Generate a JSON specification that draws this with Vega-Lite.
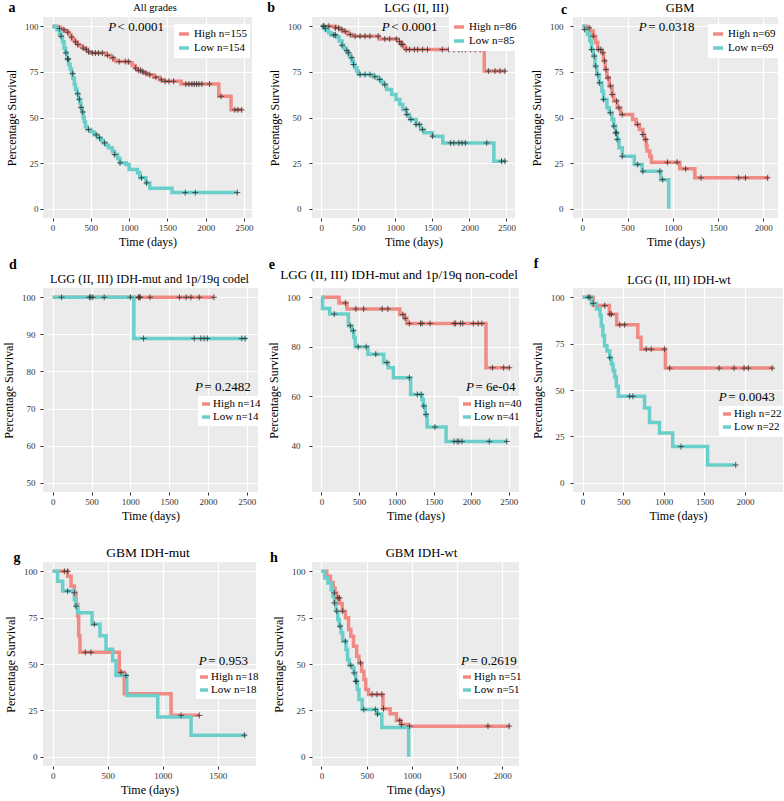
{
"$schema":"https://vega.github.io/schema/vega-lite/v6.json",
"padding":{"left":2,"top":1,"right":0,"bottom":3},
"background":"white",
"columns":3,
"spacing":{"row":70,"column":54},
"bounds":"flush",
"align":"each",
"resolve":{"scale":{"color":"independent"}},
"config":{
 "view":{"fill":"#EBEBEB","stroke":null},
 "font":"Liberation Serif",
 "text":{"font":"Liberation Serif","baseline":"middle","color":"#000"},
 "axis":{"domain":false,"tickColor":"#333","tickSize":3,"tickWidth":1,"labelFont":"Liberation Serif","labelFontSize":9,"labelColor":"#333","labelPadding":2,"titleFont":"Liberation Serif","titleFontSize":12,"titleFontWeight":"normal","titleColor":"#000","gridColor":"#fff","labelOverlap":false,"labelFlush":false,"titlePadding":6},
 "axisX":{"titlePadding":4},
 "legend":{"labelFont":"Liberation Serif","labelFontSize":11,"labelColor":"#000","fillColor":"white","padding":2,"symbolType":"stroke","symbolStrokeWidth":3.5,"symbolSize":64,"rowPadding":-5,"labelOffset":1,"symbolOpacity":1}
},
"datasets":{
"curves":[
{"p":"a","g":"High","t":0,"s":100},{"p":"a","g":"High","t":60,"s":99.4},{"p":"a","g":"High","t":100,"s":98.7},{"p":"a","g":"High","t":130,"s":98},{"p":"a","g":"High","t":160,"s":97.4},{"p":"a","g":"High","t":190,"s":96.7},{"p":"a","g":"High","t":215,"s":95.4},{"p":"a","g":"High","t":240,"s":94},{"p":"a","g":"High","t":260,"s":92.7},{"p":"a","g":"High","t":290,"s":91.4},{"p":"a","g":"High","t":320,"s":90},{"p":"a","g":"High","t":350,"s":89.3},{"p":"a","g":"High","t":390,"s":88},{"p":"a","g":"High","t":430,"s":87.3},{"p":"a","g":"High","t":460,"s":86},{"p":"a","g":"High","t":500,"s":85.3},{"p":"a","g":"High","t":700,"s":84},{"p":"a","g":"High","t":760,"s":82.7},{"p":"a","g":"High","t":800,"s":81.3},{"p":"a","g":"High","t":830,"s":80.6},{"p":"a","g":"High","t":1000,"s":79.9},{"p":"a","g":"High","t":1040,"s":78.5},{"p":"a","g":"High","t":1080,"s":77},{"p":"a","g":"High","t":1110,"s":75.8},{"p":"a","g":"High","t":1160,"s":75},{"p":"a","g":"High","t":1200,"s":74.2},{"p":"a","g":"High","t":1240,"s":73.4},{"p":"a","g":"High","t":1320,"s":72},{"p":"a","g":"High","t":1400,"s":70.6},{"p":"a","g":"High","t":1450,"s":69.8},{"p":"a","g":"High","t":1680,"s":68.3},{"p":"a","g":"High","t":2170,"s":61.6},{"p":"a","g":"High","t":2330,"s":54.2},{"p":"a","g":"High","t":2480,"s":54.2},
{"p":"a","g":"Low","t":0,"s":100},{"p":"a","g":"Low","t":30,"s":99.4},{"p":"a","g":"Low","t":60,"s":98},{"p":"a","g":"Low","t":90,"s":96},{"p":"a","g":"Low","t":110,"s":94.5},{"p":"a","g":"Low","t":130,"s":91.5},{"p":"a","g":"Low","t":150,"s":88},{"p":"a","g":"Low","t":170,"s":85.4},{"p":"a","g":"Low","t":190,"s":82},{"p":"a","g":"Low","t":210,"s":79},{"p":"a","g":"Low","t":230,"s":76.5},{"p":"a","g":"Low","t":250,"s":74},{"p":"a","g":"Low","t":265,"s":71.5},{"p":"a","g":"Low","t":285,"s":68},{"p":"a","g":"Low","t":300,"s":65.5},{"p":"a","g":"Low","t":320,"s":63},{"p":"a","g":"Low","t":340,"s":60},{"p":"a","g":"Low","t":355,"s":58},{"p":"a","g":"Low","t":370,"s":55.5},{"p":"a","g":"Low","t":385,"s":53},{"p":"a","g":"Low","t":400,"s":50},{"p":"a","g":"Low","t":415,"s":47.5},{"p":"a","g":"Low","t":430,"s":45},{"p":"a","g":"Low","t":450,"s":43.4},{"p":"a","g":"Low","t":500,"s":42.2},{"p":"a","g":"Low","t":540,"s":40.5},{"p":"a","g":"Low","t":590,"s":38.9},{"p":"a","g":"Low","t":630,"s":37.5},{"p":"a","g":"Low","t":660,"s":36.1},{"p":"a","g":"Low","t":700,"s":34.8},{"p":"a","g":"Low","t":730,"s":33.4},{"p":"a","g":"Low","t":780,"s":31.5},{"p":"a","g":"Low","t":810,"s":29.7},{"p":"a","g":"Low","t":850,"s":27.5},{"p":"a","g":"Low","t":880,"s":25.2},{"p":"a","g":"Low","t":960,"s":24.3},{"p":"a","g":"Low","t":1000,"s":21.5},{"p":"a","g":"Low","t":1110,"s":19.7},{"p":"a","g":"Low","t":1140,"s":17},{"p":"a","g":"Low","t":1220,"s":14.2},{"p":"a","g":"Low","t":1270,"s":11.3},{"p":"a","g":"Low","t":1560,"s":8.9},{"p":"a","g":"Low","t":2420,"s":8.9},
{"p":"b","g":"High","t":0,"s":100},{"p":"b","g":"High","t":190,"s":99},{"p":"b","g":"High","t":250,"s":98},{"p":"b","g":"High","t":300,"s":97},{"p":"b","g":"High","t":360,"s":95.4},{"p":"b","g":"High","t":420,"s":94.5},{"p":"b","g":"High","t":780,"s":93},{"p":"b","g":"High","t":1040,"s":91.5},{"p":"b","g":"High","t":1080,"s":90},{"p":"b","g":"High","t":1110,"s":88.5},{"p":"b","g":"High","t":1140,"s":87.2},{"p":"b","g":"High","t":2200,"s":75.4},{"p":"b","g":"High","t":2490,"s":75.4},
{"p":"b","g":"Low","t":0,"s":100},{"p":"b","g":"Low","t":30,"s":98.8},{"p":"b","g":"Low","t":60,"s":97.6},{"p":"b","g":"Low","t":100,"s":96.4},{"p":"b","g":"Low","t":130,"s":95.2},{"p":"b","g":"Low","t":200,"s":94},{"p":"b","g":"Low","t":240,"s":91.8},{"p":"b","g":"Low","t":280,"s":89.5},{"p":"b","g":"Low","t":305,"s":88.1},{"p":"b","g":"Low","t":330,"s":86.7},{"p":"b","g":"Low","t":350,"s":85.4},{"p":"b","g":"Low","t":375,"s":84},{"p":"b","g":"Low","t":395,"s":82.7},{"p":"b","g":"Low","t":415,"s":80.8},{"p":"b","g":"Low","t":435,"s":79},{"p":"b","g":"Low","t":455,"s":77.2},{"p":"b","g":"Low","t":480,"s":75.4},{"p":"b","g":"Low","t":500,"s":73.5},{"p":"b","g":"Low","t":700,"s":72.3},{"p":"b","g":"Low","t":770,"s":70.8},{"p":"b","g":"Low","t":810,"s":69.4},{"p":"b","g":"Low","t":840,"s":68},{"p":"b","g":"Low","t":880,"s":65.3},{"p":"b","g":"Low","t":950,"s":62.6},{"p":"b","g":"Low","t":1010,"s":59.9},{"p":"b","g":"Low","t":1060,"s":57.1},{"p":"b","g":"Low","t":1100,"s":54.4},{"p":"b","g":"Low","t":1150,"s":51.6},{"p":"b","g":"Low","t":1190,"s":48.9},{"p":"b","g":"Low","t":1280,"s":46.2},{"p":"b","g":"Low","t":1340,"s":43.4},{"p":"b","g":"Low","t":1390,"s":41.6},{"p":"b","g":"Low","t":1500,"s":39.8},{"p":"b","g":"Low","t":1640,"s":36.1},{"p":"b","g":"Low","t":2330,"s":26.1},{"p":"b","g":"Low","t":2490,"s":26.1},
{"p":"c","g":"High","t":0,"s":100},{"p":"c","g":"High","t":45,"s":99},{"p":"c","g":"High","t":83,"s":97.3},{"p":"c","g":"High","t":121,"s":94.5},{"p":"c","g":"High","t":147,"s":91},{"p":"c","g":"High","t":170,"s":87.2},{"p":"c","g":"High","t":216,"s":85.4},{"p":"c","g":"High","t":234,"s":81},{"p":"c","g":"High","t":253,"s":76.3},{"p":"c","g":"High","t":272,"s":71.7},{"p":"c","g":"High","t":299,"s":67.2},{"p":"c","g":"High","t":329,"s":62.6},{"p":"c","g":"High","t":348,"s":59},{"p":"c","g":"High","t":386,"s":55.3},{"p":"c","g":"High","t":423,"s":51.6},{"p":"c","g":"High","t":556,"s":48.9},{"p":"c","g":"High","t":594,"s":46.2},{"p":"c","g":"High","t":631,"s":43.4},{"p":"c","g":"High","t":669,"s":40.7},{"p":"c","g":"High","t":688,"s":38},{"p":"c","g":"High","t":707,"s":34.5},{"p":"c","g":"High","t":715,"s":31.6},{"p":"c","g":"High","t":745,"s":28.8},{"p":"c","g":"High","t":764,"s":25.5},{"p":"c","g":"High","t":1077,"s":21.9},{"p":"c","g":"High","t":1244,"s":17},{"p":"c","g":"High","t":2060,"s":17},
{"p":"c","g":"Low","t":0,"s":100},{"p":"c","g":"Low","t":26,"s":98.2},{"p":"c","g":"Low","t":57,"s":95.4},{"p":"c","g":"Low","t":83,"s":91.8},{"p":"c","g":"Low","t":102,"s":87.2},{"p":"c","g":"Low","t":121,"s":83.6},{"p":"c","g":"Low","t":140,"s":78.1},{"p":"c","g":"Low","t":159,"s":73.5},{"p":"c","g":"Low","t":185,"s":69},{"p":"c","g":"Low","t":216,"s":64.4},{"p":"c","g":"Low","t":234,"s":59.9},{"p":"c","g":"Low","t":272,"s":55.3},{"p":"c","g":"Low","t":299,"s":52.6},{"p":"c","g":"Low","t":329,"s":48.9},{"p":"c","g":"Low","t":348,"s":45.3},{"p":"c","g":"Low","t":367,"s":41.6},{"p":"c","g":"Low","t":386,"s":38},{"p":"c","g":"Low","t":405,"s":33.4},{"p":"c","g":"Low","t":442,"s":28.8},{"p":"c","g":"Low","t":575,"s":24.3},{"p":"c","g":"Low","t":662,"s":20.6},{"p":"c","g":"Low","t":866,"s":16},{"p":"c","g":"Low","t":955,"s":0},
{"p":"d","g":"High","t":0,"s":100},{"p":"d","g":"High","t":2080,"s":100},
{"p":"d","g":"Low","t":0,"s":100},{"p":"d","g":"Low","t":1045,"s":88.9},{"p":"d","g":"Low","t":2500,"s":88.9},
{"p":"e","g":"High","t":0,"s":100},{"p":"e","g":"High","t":235,"s":97.7},{"p":"e","g":"High","t":340,"s":95.3},{"p":"e","g":"High","t":1045,"s":93},{"p":"e","g":"High","t":1110,"s":91.5},{"p":"e","g":"High","t":1140,"s":89.4},{"p":"e","g":"High","t":2196,"s":71.5},{"p":"e","g":"High","t":2510,"s":71.5},
{"p":"e","g":"Low","t":0,"s":100},{"p":"e","g":"Low","t":15,"s":95.5},{"p":"e","g":"Low","t":110,"s":93.2},{"p":"e","g":"Low","t":360,"s":88.5},{"p":"e","g":"Low","t":405,"s":86.5},{"p":"e","g":"Low","t":430,"s":83.7},{"p":"e","g":"Low","t":450,"s":80},{"p":"e","g":"Low","t":620,"s":77},{"p":"e","g":"Low","t":830,"s":73.6},{"p":"e","g":"Low","t":890,"s":71.5},{"p":"e","g":"Low","t":960,"s":67.5},{"p":"e","g":"Low","t":1190,"s":60.7},{"p":"e","g":"Low","t":1340,"s":58.7},{"p":"e","g":"Low","t":1360,"s":56},{"p":"e","g":"Low","t":1385,"s":52.6},{"p":"e","g":"Low","t":1410,"s":47.5},{"p":"e","g":"Low","t":1663,"s":41.7},{"p":"e","g":"Low","t":2475,"s":41.7},
{"p":"f","g":"High","t":0,"s":100},{"p":"f","g":"High","t":130,"s":95.5},{"p":"f","g":"High","t":330,"s":90.9},{"p":"f","g":"High","t":420,"s":85.2},{"p":"f","g":"High","t":680,"s":78.5},{"p":"f","g":"High","t":720,"s":72},{"p":"f","g":"High","t":1020,"s":61.8},{"p":"f","g":"High","t":2350,"s":61.8},
{"p":"f","g":"Low","t":0,"s":100},{"p":"f","g":"Low","t":110,"s":96.7},{"p":"f","g":"Low","t":171,"s":93.7},{"p":"f","g":"Low","t":215,"s":90},{"p":"f","g":"Low","t":230,"s":84.6},{"p":"f","g":"Low","t":250,"s":79.2},{"p":"f","g":"Low","t":270,"s":73.8},{"p":"f","g":"Low","t":300,"s":71},{"p":"f","g":"Low","t":335,"s":67.4},{"p":"f","g":"Low","t":355,"s":64},{"p":"f","g":"Low","t":375,"s":60.5},{"p":"f","g":"Low","t":395,"s":57},{"p":"f","g":"Low","t":415,"s":52},{"p":"f","g":"Low","t":440,"s":46.6},{"p":"f","g":"Low","t":763,"s":40.3},{"p":"f","g":"Low","t":824,"s":32.5},{"p":"f","g":"Low","t":947,"s":26.8},{"p":"f","g":"Low","t":1110,"s":19.5},{"p":"f","g":"Low","t":1540,"s":9.6},{"p":"f","g":"Low","t":1870,"s":9.6},
{"p":"g","g":"High","t":0,"s":100},{"p":"g","g":"High","t":136,"s":97.3},{"p":"g","g":"High","t":167,"s":92},{"p":"g","g":"High","t":197,"s":88.4},{"p":"g","g":"High","t":212,"s":82.1},{"p":"g","g":"High","t":227,"s":75.9},{"p":"g","g":"High","t":236,"s":65.2},{"p":"g","g":"High","t":248,"s":56.3},{"p":"g","g":"High","t":606,"s":45.5},{"p":"g","g":"High","t":651,"s":33.9},{"p":"g","g":"High","t":1076,"s":22.3},{"p":"g","g":"High","t":1330,"s":22.3},
{"p":"g","g":"Low","t":0,"s":100},{"p":"g","g":"Low","t":45,"s":94.6},{"p":"g","g":"Low","t":91,"s":89.3},{"p":"g","g":"Low","t":197,"s":84.8},{"p":"g","g":"Low","t":212,"s":81.2},{"p":"g","g":"Low","t":227,"s":77.7},{"p":"g","g":"Low","t":358,"s":71.4},{"p":"g","g":"Low","t":430,"s":65.2},{"p":"g","g":"Low","t":485,"s":58},{"p":"g","g":"Low","t":545,"s":51.8},{"p":"g","g":"Low","t":576,"s":43.8},{"p":"g","g":"Low","t":673,"s":33},{"p":"g","g":"Low","t":955,"s":21.4},{"p":"g","g":"Low","t":1258,"s":11.6},{"p":"g","g":"Low","t":1760,"s":11.6},
{"p":"h","g":"High","t":0,"s":100},{"p":"h","g":"High","t":60,"s":97.3},{"p":"h","g":"High","t":100,"s":94},{"p":"h","g":"High","t":130,"s":91},{"p":"h","g":"High","t":150,"s":88.3},{"p":"h","g":"High","t":170,"s":85.6},{"p":"h","g":"High","t":200,"s":82.6},{"p":"h","g":"High","t":230,"s":78.5},{"p":"h","g":"High","t":265,"s":74.9},{"p":"h","g":"High","t":300,"s":68.6},{"p":"h","g":"High","t":325,"s":65},{"p":"h","g":"High","t":355,"s":59.6},{"p":"h","g":"High","t":390,"s":54.2},{"p":"h","g":"High","t":415,"s":50.6},{"p":"h","g":"High","t":445,"s":46.1},{"p":"h","g":"High","t":470,"s":41.6},{"p":"h","g":"High","t":490,"s":36.3},{"p":"h","g":"High","t":520,"s":33.6},{"p":"h","g":"High","t":680,"s":25.9},{"p":"h","g":"High","t":760,"s":23.2},{"p":"h","g":"High","t":830,"s":19.6},{"p":"h","g":"High","t":880,"s":17.4},{"p":"h","g":"High","t":960,"s":16.5},{"p":"h","g":"High","t":2080,"s":16.5},
{"p":"h","g":"Low","t":0,"s":100},{"p":"h","g":"Low","t":36,"s":96.4},{"p":"h","g":"Low","t":72,"s":93.7},{"p":"h","g":"Low","t":108,"s":90.1},{"p":"h","g":"Low","t":126,"s":86.5},{"p":"h","g":"Low","t":144,"s":82.9},{"p":"h","g":"Low","t":162,"s":78.5},{"p":"h","g":"Low","t":181,"s":74},{"p":"h","g":"Low","t":199,"s":70.4},{"p":"h","g":"Low","t":217,"s":66.8},{"p":"h","g":"Low","t":235,"s":62.3},{"p":"h","g":"Low","t":271,"s":57.8},{"p":"h","g":"Low","t":289,"s":52.4},{"p":"h","g":"Low","t":307,"s":49.2},{"p":"h","g":"Low","t":343,"s":47.9},{"p":"h","g":"Low","t":361,"s":45.2},{"p":"h","g":"Low","t":379,"s":40.7},{"p":"h","g":"Low","t":397,"s":36.3},{"p":"h","g":"Low","t":415,"s":30.9},{"p":"h","g":"Low","t":451,"s":25.5},{"p":"h","g":"Low","t":614,"s":23},{"p":"h","g":"Low","t":668,"s":15.8},{"p":"h","g":"Low","t":964,"s":0}
],
"cens":[
{"p":"a","t":90,"s":98.7},{"p":"a","t":150,"s":98},{"p":"a","t":200,"s":96.7},{"p":"a","t":250,"s":94},{"p":"a","t":300,"s":91.4},{"p":"a","t":330,"s":90},{"p":"a","t":400,"s":88},{"p":"a","t":440,"s":87.3},{"p":"a","t":470,"s":86},{"p":"a","t":520,"s":85.3},{"p":"a","t":560,"s":85.3},{"p":"a","t":600,"s":85.3},{"p":"a","t":650,"s":85.3},{"p":"a","t":720,"s":84},{"p":"a","t":790,"s":82.7},{"p":"a","t":870,"s":80.6},{"p":"a","t":950,"s":80.6},{"p":"a","t":990,"s":80.6},{"p":"a","t":1085,"s":77},{"p":"a","t":1120,"s":75.8},{"p":"a","t":1150,"s":75.8},{"p":"a","t":1180,"s":75},{"p":"a","t":1220,"s":74.2},{"p":"a","t":1270,"s":73.4},{"p":"a","t":1350,"s":72},{"p":"a","t":1420,"s":70.6},{"p":"a","t":1470,"s":69.8},{"p":"a","t":1520,"s":69.8},{"p":"a","t":1580,"s":69.8},{"p":"a","t":1740,"s":68.3},{"p":"a","t":1780,"s":68.3},{"p":"a","t":1820,"s":68.3},{"p":"a","t":1850,"s":68.3},{"p":"a","t":1880,"s":68.3},{"p":"a","t":1910,"s":68.3},{"p":"a","t":1950,"s":68.3},{"p":"a","t":2050,"s":68.3},{"p":"a","t":2200,"s":61.6},{"p":"a","t":2380,"s":54.2},{"p":"a","t":2420,"s":54.2},{"p":"a","t":2470,"s":54.2},
{"p":"a","t":110,"s":94.5},{"p":"a","t":175,"s":85.4},{"p":"a","t":197,"s":82},{"p":"a","t":205,"s":82},{"p":"a","t":263,"s":74},{"p":"a","t":329,"s":63},{"p":"a","t":351,"s":60},{"p":"a","t":373,"s":55.5},{"p":"a","t":395,"s":53},{"p":"a","t":470,"s":43.4},{"p":"a","t":570,"s":40.5},{"p":"a","t":614,"s":38.9},{"p":"a","t":680,"s":36.1},{"p":"a","t":811,"s":29.7},{"p":"a","t":882,"s":25.2},{"p":"a","t":1162,"s":17},{"p":"a","t":1228,"s":14.2},{"p":"a","t":1732,"s":8.9},{"p":"a","t":1864,"s":8.9},{"p":"a","t":2412,"s":8.9},
{"p":"b","t":36,"s":100},{"p":"b","t":102,"s":100},{"p":"b","t":191,"s":99},{"p":"b","t":235,"s":99},{"p":"b","t":280,"s":98},{"p":"b","t":324,"s":97},{"p":"b","t":391,"s":95.4},{"p":"b","t":457,"s":94.5},{"p":"b","t":524,"s":94.5},{"p":"b","t":591,"s":94.5},{"p":"b","t":657,"s":94.5},{"p":"b","t":768,"s":94.5},{"p":"b","t":857,"s":93},{"p":"b","t":924,"s":93},{"p":"b","t":1012,"s":93},{"p":"b","t":1057,"s":91.5},{"p":"b","t":1079,"s":90},{"p":"b","t":1101,"s":90},{"p":"b","t":1146,"s":87.2},{"p":"b","t":1190,"s":87.2},{"p":"b","t":1257,"s":87.2},{"p":"b","t":1301,"s":87.2},{"p":"b","t":1368,"s":87.2},{"p":"b","t":1434,"s":87.2},{"p":"b","t":1634,"s":87.2},{"p":"b","t":1723,"s":87.2},{"p":"b","t":1790,"s":87.2},{"p":"b","t":1856,"s":87.2},{"p":"b","t":1900,"s":87.2},{"p":"b","t":1945,"s":87.2},{"p":"b","t":2012,"s":87.2},{"p":"b","t":2078,"s":87.2},{"p":"b","t":2145,"s":87.2},{"p":"b","t":2256,"s":75.4},{"p":"b","t":2345,"s":75.4},{"p":"b","t":2412,"s":75.4},{"p":"b","t":2478,"s":75.4},
{"p":"b","t":27,"s":100},{"p":"b","t":58,"s":98.8},{"p":"b","t":169,"s":95.2},{"p":"b","t":191,"s":95.2},{"p":"b","t":280,"s":89.5},{"p":"b","t":346,"s":86.7},{"p":"b","t":368,"s":85.4},{"p":"b","t":413,"s":82.7},{"p":"b","t":435,"s":79},{"p":"b","t":524,"s":73.5},{"p":"b","t":591,"s":73.5},{"p":"b","t":657,"s":73.5},{"p":"b","t":724,"s":72.3},{"p":"b","t":790,"s":70.8},{"p":"b","t":857,"s":68},{"p":"b","t":1146,"s":54.4},{"p":"b","t":1155,"s":51.6},{"p":"b","t":1212,"s":48.9},{"p":"b","t":1279,"s":46.2},{"p":"b","t":1323,"s":46.2},{"p":"b","t":1368,"s":43.4},{"p":"b","t":1501,"s":39.8},{"p":"b","t":1745,"s":36.1},{"p":"b","t":1790,"s":36.1},{"p":"b","t":1856,"s":36.1},{"p":"b","t":1900,"s":36.1},{"p":"b","t":1945,"s":36.1},{"p":"b","t":2234,"s":36.1},{"p":"b","t":2433,"s":26.1},{"p":"b","t":2478,"s":26.1},
{"p":"c","t":76,"s":99},{"p":"c","t":121,"s":94.5},{"p":"c","t":178,"s":87.2},{"p":"c","t":204,"s":87.2},{"p":"c","t":227,"s":85.4},{"p":"c","t":246,"s":81},{"p":"c","t":261,"s":76.3},{"p":"c","t":284,"s":71.7},{"p":"c","t":310,"s":67.2},{"p":"c","t":329,"s":62.6},{"p":"c","t":378,"s":59},{"p":"c","t":405,"s":55.3},{"p":"c","t":442,"s":51.6},{"p":"c","t":612,"s":46.2},{"p":"c","t":669,"s":40.7},{"p":"c","t":700,"s":38},{"p":"c","t":941,"s":25.5},{"p":"c","t":1047,"s":25.5},{"p":"c","t":1142,"s":21.9},{"p":"c","t":1312,"s":17},{"p":"c","t":1728,"s":17},{"p":"c","t":1803,"s":17},{"p":"c","t":2049,"s":17},
{"p":"c","t":26,"s":98.2},{"p":"c","t":102,"s":87.2},{"p":"c","t":132,"s":83.6},{"p":"c","t":147,"s":78.1},{"p":"c","t":170,"s":73.5},{"p":"c","t":189,"s":69},{"p":"c","t":234,"s":59.9},{"p":"c","t":310,"s":52.6},{"p":"c","t":348,"s":45.3},{"p":"c","t":367,"s":41.6},{"p":"c","t":378,"s":41.6},{"p":"c","t":386,"s":38},{"p":"c","t":442,"s":28.8},{"p":"c","t":612,"s":24.3},{"p":"c","t":669,"s":20.6},{"p":"c","t":858,"s":20.6},{"p":"c","t":888,"s":16},
{"p":"d","t":114,"s":100},{"p":"d","t":473,"s":100},{"p":"d","t":490,"s":100},{"p":"d","t":515,"s":100},{"p":"d","t":663,"s":100},{"p":"d","t":1001,"s":100},{"p":"d","t":1106,"s":100},{"p":"d","t":1115,"s":100},{"p":"d","t":1128,"s":100},{"p":"d","t":1254,"s":100},{"p":"d","t":1634,"s":100},{"p":"d","t":1719,"s":100},{"p":"d","t":1782,"s":100},{"p":"d","t":1888,"s":100},{"p":"d","t":2078,"s":100},{"p":"d","t":1170,"s":88.9},{"p":"d","t":1824,"s":88.9},{"p":"d","t":1909,"s":88.9},{"p":"d","t":1951,"s":88.9},{"p":"d","t":1993,"s":88.9},{"p":"d","t":2437,"s":88.9},{"p":"d","t":2479,"s":88.9},
{"p":"e","t":320,"s":97.7},{"p":"e","t":460,"s":95.3},{"p":"e","t":563,"s":95.3},{"p":"e","t":810,"s":95.3},{"p":"e","t":887,"s":95.3},{"p":"e","t":1087,"s":93},{"p":"e","t":1117,"s":91.5},{"p":"e","t":1173,"s":89.4},{"p":"e","t":1322,"s":89.4},{"p":"e","t":1343,"s":89.4},{"p":"e","t":1450,"s":89.4},{"p":"e","t":1770,"s":89.4},{"p":"e","t":1791,"s":89.4},{"p":"e","t":1855,"s":89.4},{"p":"e","t":1885,"s":89.4},{"p":"e","t":2026,"s":89.4},{"p":"e","t":2090,"s":89.4},{"p":"e","t":2141,"s":89.4},{"p":"e","t":2281,"s":71.5},{"p":"e","t":2431,"s":71.5},{"p":"e","t":2507,"s":71.5},
{"p":"e","t":171,"s":93.2},{"p":"e","t":384,"s":88.5},{"p":"e","t":426,"s":86.5},{"p":"e","t":490,"s":80},{"p":"e","t":597,"s":80},{"p":"e","t":725,"s":77},{"p":"e","t":874,"s":73.6},{"p":"e","t":1173,"s":67.5},{"p":"e","t":1279,"s":60.7},{"p":"e","t":1330,"s":60.7},{"p":"e","t":1365,"s":56},{"p":"e","t":1395,"s":52.6},{"p":"e","t":1514,"s":47.5},{"p":"e","t":1770,"s":41.7},{"p":"e","t":1812,"s":41.7},{"p":"e","t":1834,"s":41.7},{"p":"e","t":1876,"s":41.7},{"p":"e","t":2239,"s":41.7},{"p":"e","t":2473,"s":41.7},
{"p":"f","t":69,"s":100},{"p":"f","t":90,"s":100},{"p":"f","t":273,"s":95.5},{"p":"f","t":335,"s":90.9},{"p":"f","t":355,"s":90.9},{"p":"f","t":457,"s":85.2},{"p":"f","t":518,"s":85.2},{"p":"f","t":784,"s":72},{"p":"f","t":845,"s":72},{"p":"f","t":1008,"s":72},{"p":"f","t":1073,"s":61.8},{"p":"f","t":1682,"s":61.8},{"p":"f","t":1865,"s":61.8},{"p":"f","t":1988,"s":61.8},{"p":"f","t":2041,"s":61.8},{"p":"f","t":2335,"s":61.8},
{"p":"f","t":131,"s":96.7},{"p":"f","t":335,"s":67.4},{"p":"f","t":580,"s":46.6},{"p":"f","t":620,"s":46.6},{"p":"f","t":1212,"s":19.5},{"p":"f","t":1886,"s":9.6},
{"p":"g","t":106,"s":100},{"p":"g","t":136,"s":100},{"p":"g","t":197,"s":88.4},{"p":"g","t":297,"s":56.3},{"p":"g","t":348,"s":56.3},{"p":"g","t":621,"s":45.5},{"p":"g","t":1167,"s":22.3},{"p":"g","t":1333,"s":22.3},
{"p":"g","t":136,"s":89.3},{"p":"g","t":212,"s":81.2},{"p":"g","t":379,"s":71.4},{"p":"g","t":667,"s":43.8},{"p":"g","t":1742,"s":11.6},
{"p":"h","t":144,"s":88.3},{"p":"h","t":181,"s":85.6},{"p":"h","t":199,"s":85.6},{"p":"h","t":235,"s":78.5},{"p":"h","t":433,"s":50.6},{"p":"h","t":560,"s":33.6},{"p":"h","t":614,"s":33.6},{"p":"h","t":668,"s":33.6},{"p":"h","t":686,"s":25.9},{"p":"h","t":866,"s":19.6},{"p":"h","t":884,"s":17.4},{"p":"h","t":975,"s":16.5},{"p":"h","t":1841,"s":16.5},{"p":"h","t":2076,"s":16.5},
{"p":"h","t":144,"s":82.9},{"p":"h","t":170,"s":78.5},{"p":"h","t":206,"s":70.4},{"p":"h","t":264,"s":62.3},{"p":"h","t":325,"s":49.2},{"p":"h","t":361,"s":45.2},{"p":"h","t":379,"s":40.7},{"p":"h","t":386,"s":40.7},{"p":"h","t":469,"s":25.5},{"p":"h","t":596,"s":25.5},{"p":"h","t":620,"s":23}
]
},
"concat":[
{"width":209,"height":201,"layer":[
 {"data":{"name":"curves"},"transform":[{"filter":"datum.p=='a'"}],"mark":{"type":"line","interpolate":"step-after","strokeWidth":3.5},
  "encoding":{
   "x":{"field":"t","type":"quantitative","title":"Time (days)","scale":{"domain":[-124,2604],"nice":false,"zero":false},"axis":{"format":"d","values":[0,250,500,750,1000,1250,1500,1750,2000,2250,2500],"labelExpr":"datum.value % 500 == 0 ? datum.label : ''","gridWidth":{"condition":{"test":"datum.value % 500 == 0","value":1.2},"value":0.6},"tickOpacity":{"condition":{"test":"datum.value % 500 == 0","value":1},"value":0}}},
   "y":{"field":"s","type":"quantitative","title":"Percentage Survival","scale":{"domain":[-5,105],"nice":false,"zero":false},"axis":{"labelPadding":2,"format":"d","values":[0,12.5,25,37.5,50,62.5,75,87.5,100],"labelExpr":"datum.value % 25 == 0 ? datum.label : ''","gridWidth":{"condition":{"test":"datum.value % 25 == 0","value":1.2},"value":0.6},"tickOpacity":{"condition":{"test":"datum.value % 25 == 0","value":1},"value":0}}},
   "color":{"field":"g","type":"nominal","scale":{"domain":["High","Low"],"range":["#F08A84","#6ACFCB"]},"legend":{"title":null,"orient":"none","legendX":131,"legendY":7,"symbolSize":100,"rowPadding":-1,"padding":3,"labelOffset":3,"labelExpr":"datum.label == 'High' ? 'High n=155' : 'Low n=154'"}}}},
 {"data":{"name":"cens"},"transform":[{"filter":"datum.p=='a'"}],"mark":{"type":"point","shape":"M-1,0H1M0,-1V1","size":36,"filled":false,"color":"#333","strokeWidth":0.8,"opacity":1},"encoding":{"x":{"field":"t","type":"quantitative","axis":{"title":"Time (days)"}},"y":{"field":"s","type":"quantitative","axis":{"title":"Percentage Survival"}}}},
 {"data":{"values":[{}]},"mark":{"type":"text","text":"All grades","fontSize":10.5},"encoding":{"x":{"datum":1338,"type":"quantitative","axis":{"title":"Time (days)"}},"y":{"datum":109.9,"type":"quantitative","axis":{"title":"Percentage Survival"}}}},
 {"data":{"values":[{}]},"mark":{"type":"text","text":"a","fontWeight":"bold","fontSize":14},"encoding":{"x":{"datum":-529,"type":"quantitative","axis":{"title":"Time (days)"}},"y":{"datum":109.9,"type":"quantitative","axis":{"title":"Percentage Survival"}}}},
 {"data":{"values":[{}]},"mark":{"type":"text","text":"P","fontStyle":"italic","align":"right","fontSize":13},"encoding":{"x":{"datum":830,"type":"quantitative","axis":{"title":"Time (days)"}},"y":{"datum":99.7,"type":"quantitative","axis":{"title":"Percentage Survival"}}}},
 {"data":{"values":[{}]},"mark":{"type":"text","text":"\u00a0< 0.0001","align":"left","fontSize":13,"dx":1.5},"encoding":{"x":{"datum":830,"type":"quantitative","axis":{"title":"Time (days)"}},"y":{"datum":99.7,"type":"quantitative","axis":{"title":"Percentage Survival"}}}}
]},
{"width":203,"height":201,"layer":[
 {"data":{"name":"curves"},"transform":[{"filter":"datum.p=='b'"}],"mark":{"type":"line","interpolate":"step-after","strokeWidth":3.5},
  "encoding":{
   "x":{"field":"t","type":"quantitative","title":"Time (days)","scale":{"domain":[-125,2615],"nice":false,"zero":false},"axis":{"format":"d","values":[0,250,500,750,1000,1250,1500,1750,2000,2250,2500],"labelExpr":"datum.value % 500 == 0 ? datum.label : ''","gridWidth":{"condition":{"test":"datum.value % 500 == 0","value":1.2},"value":0.6},"tickOpacity":{"condition":{"test":"datum.value % 500 == 0","value":1},"value":0}}},
   "y":{"field":"s","type":"quantitative","title":"Percentage Survival","scale":{"domain":[-5,105],"nice":false,"zero":false},"axis":{"labelPadding":8,"format":"d","values":[0,12.5,25,37.5,50,62.5,75,87.5,100],"labelExpr":"datum.value % 25 == 0 ? datum.label : ''","gridWidth":{"condition":{"test":"datum.value % 25 == 0","value":1.2},"value":0.6},"tickOpacity":{"condition":{"test":"datum.value % 25 == 0","value":1},"value":0}}},
   "color":{"field":"g","type":"nominal","scale":{"domain":["High","Low"],"range":["#F08A84","#6ACFCB"]},"legend":{"title":null,"orient":"none","legendX":137,"legendY":0,"symbolSize":100,"rowPadding":-1,"padding":3,"labelOffset":3,"labelExpr":"datum.label == 'High' ? 'High n=86' : 'Low n=85'"}}}},
 {"data":{"name":"cens"},"transform":[{"filter":"datum.p=='b'"}],"mark":{"type":"point","shape":"M-1,0H1M0,-1V1","size":36,"filled":false,"color":"#333","strokeWidth":0.8,"opacity":1},"encoding":{"x":{"field":"t","type":"quantitative","axis":{"title":"Time (days)"}},"y":{"field":"s","type":"quantitative","axis":{"title":"Percentage Survival"}}}},
 {"data":{"values":[{}]},"mark":{"type":"text","text":"LGG (II, III)","fontSize":12.5},"encoding":{"x":{"datum":1285,"type":"quantitative","axis":{"title":"Time (days)"}},"y":{"datum":109.7,"type":"quantitative","axis":{"title":"Percentage Survival"}}}},
 {"data":{"values":[{}]},"mark":{"type":"text","text":"b","fontWeight":"bold","fontSize":14},"encoding":{"x":{"datum":-678,"type":"quantitative","axis":{"title":"Time (days)"}},"y":{"datum":109.9,"type":"quantitative","axis":{"title":"Percentage Survival"}}}},
 {"data":{"values":[{}]},"mark":{"type":"text","text":"P","fontStyle":"italic","align":"right","fontSize":13},"encoding":{"x":{"datum":925,"type":"quantitative","axis":{"title":"Time (days)"}},"y":{"datum":99.7,"type":"quantitative","axis":{"title":"Percentage Survival"}}}},
 {"data":{"values":[{}]},"mark":{"type":"text","text":"\u00a0< 0.0001","align":"left","fontSize":13,"dx":1.5},"encoding":{"x":{"datum":925,"type":"quantitative","axis":{"title":"Time (days)"}},"y":{"datum":99.7,"type":"quantitative","axis":{"title":"Percentage Survival"}}}}
]},
{"width":205,"height":201,"layer":[
 {"data":{"name":"curves"},"transform":[{"filter":"datum.p=='c'"}],"mark":{"type":"line","interpolate":"step-after","strokeWidth":3.5},
  "encoding":{
   "x":{"field":"t","type":"quantitative","title":"Time (days)","scale":{"domain":[-103,2163],"nice":false,"zero":false},"axis":{"format":"d","values":[0,250,500,750,1000,1250,1500,1750,2000],"labelExpr":"datum.value % 500 == 0 ? datum.label : ''","gridWidth":{"condition":{"test":"datum.value % 500 == 0","value":1.2},"value":0.6},"tickOpacity":{"condition":{"test":"datum.value % 500 == 0","value":1},"value":0}}},
   "y":{"field":"s","type":"quantitative","title":"Percentage Survival","scale":{"domain":[-5,105],"nice":false,"zero":false},"axis":{"labelPadding":7,"format":"d","values":[0,12.5,25,37.5,50,62.5,75,87.5,100],"labelExpr":"datum.value % 25 == 0 ? datum.label : ''","gridWidth":{"condition":{"test":"datum.value % 25 == 0","value":1.2},"value":0.6},"tickOpacity":{"condition":{"test":"datum.value % 25 == 0","value":1},"value":0}}},
   "color":{"field":"g","type":"nominal","scale":{"domain":["High","Low"],"range":["#F08A84","#6ACFCB"]},"legend":{"title":null,"orient":"none","legendX":135,"legendY":7,"symbolSize":100,"rowPadding":-1,"padding":3,"labelOffset":3,"labelExpr":"datum.label == 'High' ? 'High n=69' : 'Low n=69'"}}}},
 {"data":{"name":"cens"},"transform":[{"filter":"datum.p=='c'"}],"mark":{"type":"point","shape":"M-1,0H1M0,-1V1","size":36,"filled":false,"color":"#333","strokeWidth":0.8,"opacity":1},"encoding":{"x":{"field":"t","type":"quantitative","axis":{"title":"Time (days)"}},"y":{"field":"s","type":"quantitative","axis":{"title":"Percentage Survival"}}}},
 {"data":{"values":[{}]},"mark":{"type":"text","text":"GBM","fontSize":12.5},"encoding":{"x":{"datum":1080,"type":"quantitative","axis":{"title":"Time (days)"}},"y":{"datum":109.9,"type":"quantitative","axis":{"title":"Percentage Survival"}}}},
 {"data":{"values":[{}]},"mark":{"type":"text","text":"c","fontWeight":"bold","fontSize":14},"encoding":{"x":{"datum":-202,"type":"quantitative","axis":{"title":"Time (days)"}},"y":{"datum":109,"type":"quantitative","axis":{"title":"Percentage Survival"}}}},
 {"data":{"values":[{}]},"mark":{"type":"text","text":"P","fontStyle":"italic","align":"right","fontSize":13},"encoding":{"x":{"datum":712,"type":"quantitative","axis":{"title":"Time (days)"}},"y":{"datum":99.7,"type":"quantitative","axis":{"title":"Percentage Survival"}}}},
 {"data":{"values":[{}]},"mark":{"type":"text","text":"\u00a0= 0.0318","align":"left","fontSize":13,"dx":1.5},"encoding":{"x":{"datum":712,"type":"quantitative","axis":{"title":"Time (days)"}},"y":{"datum":99.7,"type":"quantitative","axis":{"title":"Percentage Survival"}}}}
]},
{"width":215,"height":204,"layer":[
 {"data":{"name":"curves"},"transform":[{"filter":"datum.p=='d'"}],"mark":{"type":"line","interpolate":"step-after","strokeWidth":3.5},
  "encoding":{
   "x":{"field":"t","type":"quantitative","title":"Time (days)","scale":{"domain":[-126,2646],"nice":false,"zero":false},"axis":{"format":"d","values":[0,250,500,750,1000,1250,1500,1750,2000,2250,2500],"labelExpr":"datum.value % 500 == 0 ? datum.label : ''","gridWidth":{"condition":{"test":"datum.value % 500 == 0","value":1.2},"value":0.6},"tickOpacity":{"condition":{"test":"datum.value % 500 == 0","value":1},"value":0}}},
   "y":{"field":"s","type":"quantitative","title":"Percentage Survival","scale":{"domain":[47.5,102.5],"nice":false,"zero":false},"axis":{"labelPadding":5,"format":"d","values":[50,55,60,65,70,75,80,85,90,95,100],"labelExpr":"datum.value % 10 == 0 ? datum.label : ''","gridWidth":{"condition":{"test":"datum.value % 10 == 0","value":1.2},"value":0.6},"tickOpacity":{"condition":{"test":"datum.value % 10 == 0","value":1},"value":0}}},
   "color":{"field":"g","type":"nominal","scale":{"domain":["High","Low"],"range":["#F08A84","#6ACFCB"]},"legend":{"title":null,"orient":"none","legendX":155,"legendY":108,"labelExpr":"datum.label == 'High' ? 'High n=14' : 'Low n=14'"}}}},
 {"data":{"name":"cens"},"transform":[{"filter":"datum.p=='d'"}],"mark":{"type":"point","shape":"M-1,0H1M0,-1V1","size":36,"filled":false,"color":"#333","strokeWidth":0.8,"opacity":1},"encoding":{"x":{"field":"t","type":"quantitative","axis":{"title":"Time (days)"}},"y":{"field":"s","type":"quantitative","axis":{"title":"Percentage Survival"}}}},
 {"data":{"values":[{}]},"mark":{"type":"text","text":"LGG (II, III) IDH-mut and 1p/19q codel","fontSize":12.3},"encoding":{"x":{"datum":1247,"type":"quantitative","axis":{"title":"Time (days)"}},"y":{"datum":104.9,"type":"quantitative","axis":{"title":"Percentage Survival"}}}},
 {"data":{"values":[{}]},"mark":{"type":"text","text":"d","fontWeight":"bold","fontSize":14},"encoding":{"x":{"datum":-513,"type":"quantitative","axis":{"title":"Time (days)"}},"y":{"datum":108.7,"type":"quantitative","axis":{"title":"Percentage Survival"}}}},
 {"data":{"values":[{}]},"mark":{"type":"text","text":"P","fontStyle":"italic","align":"right","fontSize":13},"encoding":{"x":{"datum":1935,"type":"quantitative","axis":{"title":"Time (days)"}},"y":{"datum":75.9,"type":"quantitative","axis":{"title":"Percentage Survival"}}}},
 {"data":{"values":[{}]},"mark":{"type":"text","text":"\u00a0= 0.2482","align":"left","fontSize":13,"dx":1.5},"encoding":{"x":{"datum":1935,"type":"quantitative","axis":{"title":"Time (days)"}},"y":{"datum":75.9,"type":"quantitative","axis":{"title":"Percentage Survival"}}}}
]},
{"width":207,"height":204,"layer":[
 {"data":{"name":"curves"},"transform":[{"filter":"datum.p=='e'"}],"mark":{"type":"line","interpolate":"step-after","strokeWidth":3.5},
  "encoding":{
   "x":{"field":"t","type":"quantitative","title":"Time (days)","scale":{"domain":[-126,2636],"nice":false,"zero":false},"axis":{"format":"d","values":[0,250,500,750,1000,1250,1500,1750,2000,2250,2500],"labelExpr":"datum.value % 500 == 0 ? datum.label : ''","gridWidth":{"condition":{"test":"datum.value % 500 == 0","value":1.2},"value":0.6},"tickOpacity":{"condition":{"test":"datum.value % 500 == 0","value":1},"value":0}}},
   "y":{"field":"s","type":"quantitative","title":"Percentage Survival","scale":{"domain":[21.25,103.75],"nice":false,"zero":false},"axis":{"labelPadding":9,"format":"d","values":[40,60,80,100],"gridWidth":1.2,"labelOverlap":false}},
   "color":{"field":"g","type":"nominal","scale":{"domain":["High","Low"],"range":["#F08A84","#6ACFCB"]},"legend":{"title":null,"orient":"none","legendX":147,"legendY":108,"labelExpr":"datum.label == 'High' ? 'High n=40' : 'Low n=41'"}}}},
 {"data":{"name":"cens"},"transform":[{"filter":"datum.p=='e'"}],"mark":{"type":"point","shape":"M-1,0H1M0,-1V1","size":36,"filled":false,"color":"#333","strokeWidth":0.8,"opacity":1},"encoding":{"x":{"field":"t","type":"quantitative","axis":{"title":"Time (days)"}},"y":{"field":"s","type":"quantitative","axis":{"title":"Percentage Survival"}}}},
 {"data":{"values":[{}]},"mark":{"type":"text","text":"LGG (II, III) IDH-mut and 1p/19q non-codel","fontSize":13.2},"encoding":{"x":{"datum":1035,"type":"quantitative","axis":{"title":"Time (days)"}},"y":{"datum":109,"type":"quantitative","axis":{"title":"Percentage Survival"}}}},
 {"data":{"values":[{}]},"mark":{"type":"text","text":"e","fontWeight":"bold","fontSize":14},"encoding":{"x":{"datum":-660,"type":"quantitative","axis":{"title":"Time (days)"}},"y":{"datum":113,"type":"quantitative","axis":{"title":"Percentage Survival"}}}},
 {"data":{"values":[{}]},"mark":{"type":"text","text":"P","fontStyle":"italic","align":"right","fontSize":13},"encoding":{"x":{"datum":2034,"type":"quantitative","axis":{"title":"Time (days)"}},"y":{"datum":63.8,"type":"quantitative","axis":{"title":"Percentage Survival"}}}},
 {"data":{"values":[{}]},"mark":{"type":"text","text":"\u00a0= 6e-04","align":"left","fontSize":13,"dx":1.5},"encoding":{"x":{"datum":2034,"type":"quantitative","axis":{"title":"Time (days)"}},"y":{"datum":63.8,"type":"quantitative","axis":{"title":"Percentage Survival"}}}}
]},
{"width":210,"height":204,"layer":[
 {"data":{"name":"curves"},"transform":[{"filter":"datum.p=='f'"}],"mark":{"type":"line","interpolate":"step-after","strokeWidth":3.5},
  "encoding":{
   "x":{"field":"t","type":"quantitative","title":"Time (days)","scale":{"domain":[-118,2468],"nice":false,"zero":false},"axis":{"format":"d","values":[0,250,500,750,1000,1250,1500,1750,2000,2250],"labelExpr":"datum.value % 500 == 0 ? datum.label : ''","gridWidth":{"condition":{"test":"datum.value % 500 == 0","value":1.2},"value":0.6},"tickOpacity":{"condition":{"test":"datum.value % 500 == 0","value":1},"value":0}}},
   "y":{"field":"s","type":"quantitative","title":"Percentage Survival","scale":{"domain":[-5,105],"nice":false,"zero":false},"axis":{"labelPadding":6,"format":"d","values":[0,12.5,25,37.5,50,62.5,75,87.5,100],"labelExpr":"datum.value % 25 == 0 ? datum.label : ''","gridWidth":{"condition":{"test":"datum.value % 25 == 0","value":1.2},"value":0.6},"tickOpacity":{"condition":{"test":"datum.value % 25 == 0","value":1},"value":0}}},
   "color":{"field":"g","type":"nominal","scale":{"domain":["High","Low"],"range":["#F08A84","#6ACFCB"]},"legend":{"title":null,"orient":"none","legendX":146,"legendY":118,"labelExpr":"datum.label == 'High' ? 'High n=22' : 'Low n=22'"}}}},
 {"data":{"name":"cens"},"transform":[{"filter":"datum.p=='f'"}],"mark":{"type":"point","shape":"M-1,0H1M0,-1V1","size":36,"filled":false,"color":"#333","strokeWidth":0.8,"opacity":1},"encoding":{"x":{"field":"t","type":"quantitative","axis":{"title":"Time (days)"}},"y":{"field":"s","type":"quantitative","axis":{"title":"Percentage Survival"}}}},
 {"data":{"values":[{}]},"mark":{"type":"text","text":"LGG (II, III) IDH-wt","fontSize":12.2},"encoding":{"x":{"datum":1187,"type":"quantitative","axis":{"title":"Time (days)"}},"y":{"datum":109.3,"type":"quantitative","axis":{"title":"Percentage Survival"}}}},
 {"data":{"values":[{}]},"mark":{"type":"text","text":"f","fontWeight":"bold","fontSize":14},"encoding":{"x":{"datum":-574,"type":"quantitative","axis":{"title":"Time (days)"}},"y":{"datum":117.9,"type":"quantitative","axis":{"title":"Percentage Survival"}}}},
 {"data":{"values":[{}]},"mark":{"type":"text","text":"P","fontStyle":"italic","align":"right","fontSize":13},"encoding":{"x":{"datum":1776,"type":"quantitative","axis":{"title":"Time (days)"}},"y":{"datum":46.4,"type":"quantitative","axis":{"title":"Percentage Survival"}}}},
 {"data":{"values":[{}]},"mark":{"type":"text","text":"\u00a0= 0.0043","align":"left","fontSize":13,"dx":1.5},"encoding":{"x":{"datum":1776,"type":"quantitative","axis":{"title":"Time (days)"}},"y":{"datum":46.4,"type":"quantitative","axis":{"title":"Percentage Survival"}}}}
]},
{"width":213,"height":204,"layer":[
 {"data":{"name":"curves"},"transform":[{"filter":"datum.p=='g'"}],"mark":{"type":"line","interpolate":"step-after","strokeWidth":3.5},
  "encoding":{
   "x":{"field":"t","type":"quantitative","title":"Time (days)","scale":{"domain":[-88,1848],"nice":false,"zero":false},"axis":{"format":"d","values":[0,250,500,750,1000,1250,1500,1750],"labelExpr":"datum.value % 500 == 0 ? datum.label : ''","gridWidth":{"condition":{"test":"datum.value % 500 == 0","value":1.2},"value":0.6},"tickOpacity":{"condition":{"test":"datum.value % 500 == 0","value":1},"value":0}}},
   "y":{"field":"s","type":"quantitative","title":"Percentage Survival","scale":{"domain":[-5,105],"nice":false,"zero":false},"axis":{"labelPadding":3,"format":"d","values":[0,12.5,25,37.5,50,62.5,75,87.5,100],"labelExpr":"datum.value % 25 == 0 ? datum.label : ''","gridWidth":{"condition":{"test":"datum.value % 25 == 0","value":1.2},"value":0.6},"tickOpacity":{"condition":{"test":"datum.value % 25 == 0","value":1},"value":0}}},
   "color":{"field":"g","type":"nominal","scale":{"domain":["High","Low"],"range":["#F08A84","#6ACFCB"]},"legend":{"title":null,"orient":"none","legendX":153,"legendY":107,"labelExpr":"datum.label == 'High' ? 'High n=18' : 'Low n=18'"}}}},
 {"data":{"name":"cens"},"transform":[{"filter":"datum.p=='g'"}],"mark":{"type":"point","shape":"M-1,0H1M0,-1V1","size":36,"filled":false,"color":"#333","strokeWidth":0.8,"opacity":1},"encoding":{"x":{"field":"t","type":"quantitative","axis":{"title":"Time (days)"}},"y":{"field":"s","type":"quantitative","axis":{"title":"Percentage Survival"}}}},
 {"data":{"values":[{}]},"mark":{"type":"text","text":"GBM IDH-mut","fontSize":13.5},"encoding":{"x":{"datum":866,"type":"quantitative","axis":{"title":"Time (days)"}},"y":{"datum":109.7,"type":"quantitative","axis":{"title":"Percentage Survival"}}}},
 {"data":{"values":[{}]},"mark":{"type":"text","text":"g","fontWeight":"bold","fontSize":14},"encoding":{"x":{"datum":-324,"type":"quantitative","axis":{"title":"Time (days)"}},"y":{"datum":107.2,"type":"quantitative","axis":{"title":"Percentage Survival"}}}},
 {"data":{"values":[{}]},"mark":{"type":"text","text":"P","fontStyle":"italic","align":"right","fontSize":13},"encoding":{"x":{"datum":1400,"type":"quantitative","axis":{"title":"Time (days)"}},"y":{"datum":51.8,"type":"quantitative","axis":{"title":"Percentage Survival"}}}},
 {"data":{"values":[{}]},"mark":{"type":"text","text":"\u00a0= 0.953","align":"left","fontSize":13,"dx":1.5},"encoding":{"x":{"datum":1400,"type":"quantitative","axis":{"title":"Time (days)"}},"y":{"datum":51.8,"type":"quantitative","axis":{"title":"Percentage Survival"}}}}
]},
{"width":207,"height":204,"layer":[
 {"data":{"name":"curves"},"transform":[{"filter":"datum.p=='h'"}],"mark":{"type":"line","interpolate":"step-after","strokeWidth":3.5},
  "encoding":{
   "x":{"field":"t","type":"quantitative","title":"Time (days)","scale":{"domain":[-104,2184],"nice":false,"zero":false},"axis":{"format":"d","values":[0,250,500,750,1000,1250,1500,1750,2000],"labelExpr":"datum.value % 500 == 0 ? datum.label : ''","gridWidth":{"condition":{"test":"datum.value % 500 == 0","value":1.2},"value":0.6},"tickOpacity":{"condition":{"test":"datum.value % 500 == 0","value":1},"value":0}}},
   "y":{"field":"s","type":"quantitative","title":"Percentage Survival","scale":{"domain":[-5,105],"nice":false,"zero":false},"axis":{"labelPadding":4,"format":"d","values":[0,12.5,25,37.5,50,62.5,75,87.5,100],"labelExpr":"datum.value % 25 == 0 ? datum.label : ''","gridWidth":{"condition":{"test":"datum.value % 25 == 0","value":1.2},"value":0.6},"tickOpacity":{"condition":{"test":"datum.value % 25 == 0","value":1},"value":0}}},
   "color":{"field":"g","type":"nominal","scale":{"domain":["High","Low"],"range":["#F08A84","#6ACFCB"]},"legend":{"title":null,"orient":"none","legendX":147,"legendY":107,"labelExpr":"datum.label == 'High' ? 'High n=51' : 'Low n=51'"}}}},
 {"data":{"name":"cens"},"transform":[{"filter":"datum.p=='h'"}],"mark":{"type":"point","shape":"M-1,0H1M0,-1V1","size":36,"filled":false,"color":"#333","strokeWidth":0.8,"opacity":1},"encoding":{"x":{"field":"t","type":"quantitative","axis":{"title":"Time (days)"}},"y":{"field":"s","type":"quantitative","axis":{"title":"Percentage Survival"}}}},
 {"data":{"values":[{}]},"mark":{"type":"text","text":"GBM IDH-wt","fontSize":12.7},"encoding":{"x":{"datum":1106,"type":"quantitative","axis":{"title":"Time (days)"}},"y":{"datum":109.7,"type":"quantitative","axis":{"title":"Percentage Survival"}}}},
 {"data":{"values":[{}]},"mark":{"type":"text","text":"h","fontWeight":"bold","fontSize":14},"encoding":{"x":{"datum":-524,"type":"quantitative","axis":{"title":"Time (days)"}},"y":{"datum":107.2,"type":"quantitative","axis":{"title":"Percentage Survival"}}}},
 {"data":{"values":[{}]},"mark":{"type":"text","text":"P","fontStyle":"italic","align":"right","fontSize":13},"encoding":{"x":{"datum":1630,"type":"quantitative","axis":{"title":"Time (days)"}},"y":{"datum":51.8,"type":"quantitative","axis":{"title":"Percentage Survival"}}}},
 {"data":{"values":[{}]},"mark":{"type":"text","text":"\u00a0= 0.2619","align":"left","fontSize":13,"dx":1.5},"encoding":{"x":{"datum":1630,"type":"quantitative","axis":{"title":"Time (days)"}},"y":{"datum":51.8,"type":"quantitative","axis":{"title":"Percentage Survival"}}}}
]}
]
}
